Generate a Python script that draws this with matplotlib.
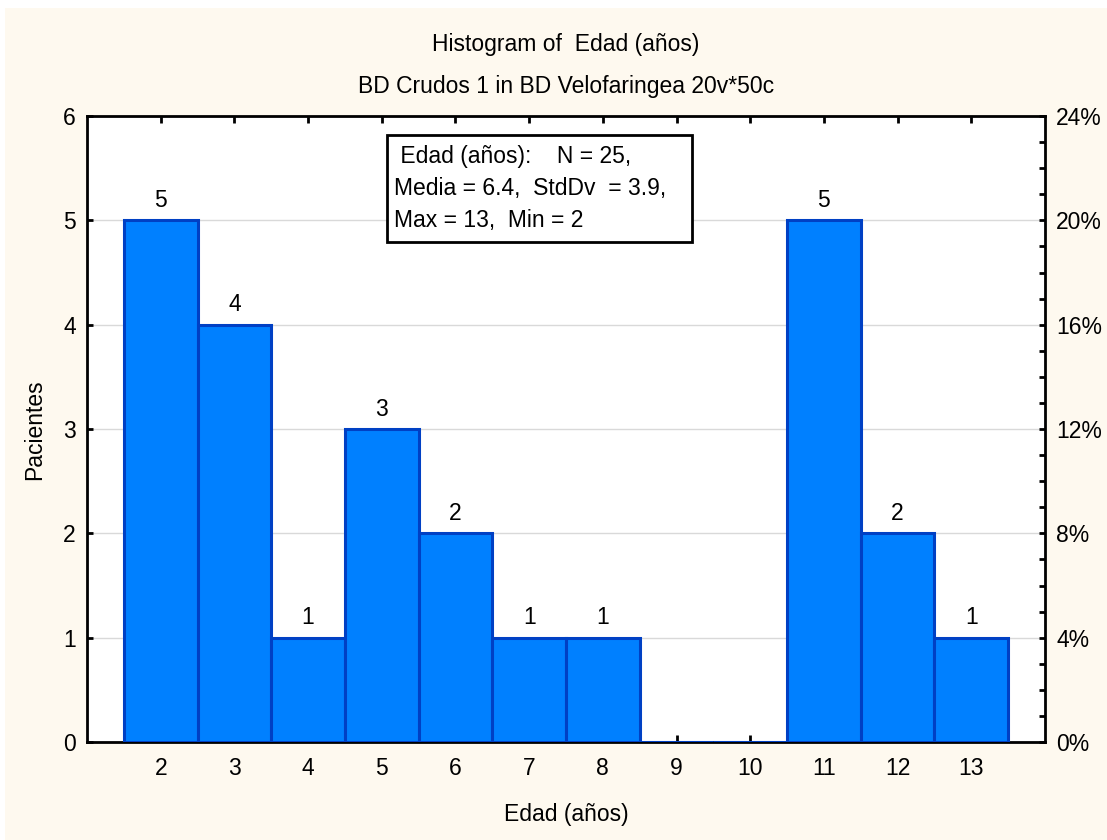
import matplotlib
matplotlib.use("Agg")
import matplotlib.pyplot as plt
import matplotlib.patches as mpatches
from matplotlib.ticker import MultipleLocator, FuncFormatter

EDAD = [2, 3, 4, 5, 6, 7, 8, 9, 10, 11, 12, 13]
PACIENTES = [5, 4, 1, 3, 2, 1, 1, 0, 0, 5, 2, 1]
STATS_LINES = [
    " Edad (años):    N = 25,",
    "Media = 6.4,  StdDv  = 3.9,",
    "Max = 13,  Min = 2",
]

PANEL_BG = "#FEF9EF"
BAR_FACE = "#0080FF"
BAR_EDGE = "#0040C4"
GRID = "#D9D9D9"
INK = "#000000"
FS = 16.5

plt.rcParams["font.family"] = ["Liberation Sans", "DejaVu Sans"]

fig = plt.figure(figsize=(11.07, 8.40), dpi=100, facecolor="white")
fig.patches.append(
    mpatches.Rectangle((5 / 1107, 0), 1, 1 - 8 / 840, transform=fig.transFigure,
                       facecolor=PANEL_BG, edgecolor="none", zorder=-10)
)

ax = fig.add_axes([87 / 1107, 1 - 742 / 840, (1045 - 87) / 1107, (742 - 116) / 840])
ax.set_facecolor("white")

n_total = sum(PACIENTES)
ax.bar(EDAD, PACIENTES, width=1.0, color=BAR_FACE, edgecolor=BAR_EDGE, linewidth=2.2, zorder=3)
for x, c in zip(EDAD, PACIENTES):
    if c > 0:
        ax.text(x, c + 0.08, str(c), ha="center", va="bottom", fontsize=FS, color=INK, zorder=4)

ax.set_xlim(1, 14)
ax.set_ylim(0, 6)
ax.set_xticks(EDAD)
ax.set_yticks(range(0, 7))
ax.grid(axis="y", color=GRID, lw=1.0, zorder=0)
ax.set_axisbelow(True)
for s in ax.spines.values():
    s.set_linewidth(2.0)
    s.set_color(INK)
ax.tick_params(axis="x", direction="in", length=5, width=2, labelsize=FS, pad=11, top=True)
ax.tick_params(axis="y", direction="in", length=4, width=2, labelsize=FS, pad=8)

# right axis: share of total patients
ax2 = ax.twinx()
ax2.set_ylim(0, 6 / n_total * 100)
ax2.yaxis.set_major_locator(MultipleLocator(4))
ax2.yaxis.set_minor_locator(MultipleLocator(1))
ax2.yaxis.set_major_formatter(FuncFormatter(lambda v, _: f"{v:.0f}%"))
ax2.tick_params(axis="y", which="both", direction="in", length=4, width=2, labelsize=FS, pad=8)
for s in ax2.spines.values():
    s.set_visible(False)

# summary statistics box
box_l, box_r = (387 - 87) / 958, (692 - 87) / 958
box_b, box_t = (742 - 242) / 626, (742 - 135) / 626
ax2.add_patch(mpatches.Rectangle((box_l, box_b), box_r - box_l, box_t - box_b, transform=ax.transAxes,
                                 facecolor="white", edgecolor=INK, linewidth=2.0, zorder=5))
for i, line in enumerate(STATS_LINES):
    y_px = 157 + 32 * i
    ax2.text((394 - 87) / 958, (742 - y_px) / 626, line, transform=ax.transAxes,
             ha="left", va="center", fontsize=FS, color=INK, zorder=6)

fig.text(566 / 1107, 1 - 44 / 840, "Histogram of  Edad (años)", ha="center", va="center", fontsize=FS)
fig.text(566 / 1107, 1 - 87 / 840, "BD Crudos 1 in BD Velofaringea 20v*50c", ha="center", va="center", fontsize=FS)
fig.text(35 / 1107, 1 - 430 / 840, "Pacientes", ha="center", va="center", rotation=90, fontsize=FS)
fig.text(566 / 1107, 1 - 815 / 840, "Edad (años)", ha="center", va="center", fontsize=FS)

fig.savefig("out.png", dpi=100, facecolor=fig.get_facecolor())
